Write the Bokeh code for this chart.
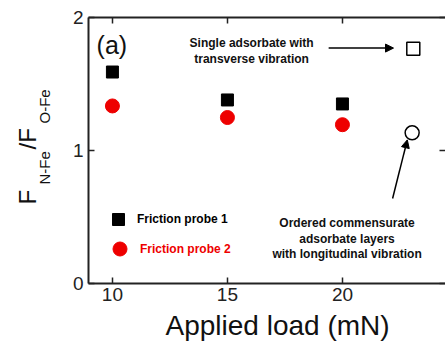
import math
from bokeh.plotting import figure
from bokeh.layouts import row
from bokeh.models import (Range1d, FixedTicker, LinearAxis, Label, Arrow, NormalHead,
                          Legend, LegendItem, Title, CustomJSTickFormatter)
from bokeh.embed import file_html
from bokeh.resources import INLINE

# ---- data ----
loads = [10, 15, 20]
probe1 = [1.59, 1.38, 1.35]
probe2 = [1.335, 1.248, 1.194]
single_x = [23.08]
single_y = [1.765]
ordered_x = [23.03]
ordered_y = [1.133]
x_ticks = [10, 15, 20]
y_ticks = [0, 1, 2]
x_title = "Applied load (mN)"

FONT = "Liberation Sans"
RED = "#ee0000"
LEFT_W = 60

p = figure(width=445 - LEFT_W, height=350, output_backend="svg", toolbar_location=None,
           x_range=Range1d(8.96, 24.48), y_range=Range1d(0, 2),
           min_border_left=88 - LEFT_W, min_border_right=0, min_border_top=17,
           min_border_bottom=67, x_axis_location=None, y_axis_location=None)
p.outline_line_color = None
p.grid.visible = False


def style_axis(ax, ticks, show_labels, line=True):
    ax.ticker = FixedTicker(ticks=ticks)
    ax.minor_tick_line_color = None
    ax.major_tick_in = 6
    ax.major_tick_out = 0
    ax.major_tick_line_width = 1.5
    ax.major_tick_line_color = "#222222"
    ax.axis_line_width = 2
    ax.axis_line_color = "#222222" if line else None
    if show_labels:
        ax.major_label_text_font = FONT
        ax.major_label_text_font_size = "19px"
        ax.major_label_text_color = "#222222"
    else:
        ax.formatter = CustomJSTickFormatter(code="return ''")
        ax.major_label_text_font_size = "0px"
        ax.major_label_standoff = 0


bottom = LinearAxis()
style_axis(bottom, x_ticks, True)
bottom.major_label_standoff = 4
p.add_layout(bottom, "below")

left = LinearAxis()
style_axis(left, y_ticks, True)
left.major_label_standoff = 5
p.add_layout(left, "left")

top = LinearAxis()
style_axis(top, x_ticks, False)
p.add_layout(top, "above")

right = LinearAxis()
style_axis(right, y_ticks, False, line=False)
p.add_layout(right, "right")

p.add_layout(Title(text=x_title, align="left", offset=77, standoff=9,
                   text_font=FONT, text_font_size="28px", text_font_style="normal",
                   text_color="#111111"), "below")

# ---- data marks ----
r1 = p.scatter(loads, probe1, marker="square", size=12, fill_color="black", line_color="black")
r2 = p.scatter(loads, probe2, marker="circle", size=14, fill_color=RED, line_color=RED)
p.scatter(single_x, single_y, marker="square", size=13, fill_color=None,
          line_color="black", line_width=1.5)
p.scatter(ordered_x, ordered_y, marker="circle", size=14, fill_color=None,
          line_color="black", line_width=1.5)

# ---- legends ----
leg1 = Legend(items=[LegendItem(label="Friction probe 1", renderers=[r1])],
              location=(15, 49), glyph_width=30, glyph_height=30, padding=0, margin=0,
              spacing=0, label_standoff=4, border_line_color=None, background_fill_alpha=0,
              label_text_font=FONT, label_text_font_style="bold", label_text_font_size="12px",
              label_text_color="black")
leg2 = Legend(items=[LegendItem(label="Friction probe 2", renderers=[r2])],
              location=(14, 17), glyph_width=35, glyph_height=35, padding=0, margin=0,
              spacing=0, label_standoff=3, border_line_color=None, background_fill_alpha=0,
              label_text_font=FONT, label_text_font_style="bold", label_text_font_size="12px",
              label_text_color=RED)
p.add_layout(leg1)
p.add_layout(leg2)

# ---- annotations (in data units) ----
def note(text, x, y, size="12px", style="bold", align="center"):
    p.add_layout(Label(x=x, y=y, text=text, text_font=FONT, text_font_size=size,
                       text_font_style=style, text_align=align,
                       text_baseline="alphabetic", text_color="#111111"))


note("(a)", 9.31, 1.79, size="25px", style="normal", align="left")
note("Single adsorbate with", 16.05, 1.81)
note("transverse vibration", 16.05, 1.69)
note("Ordered commensurate", 20.20, 0.452)
note("adsorbate layers", 20.20, 0.333)
note("with longitudinal vibration", 20.20, 0.222)

p.add_layout(Arrow(end=NormalHead(size=8, fill_color="black", line_color="black"),
                   x_start=19.4, y_start=1.77, x_end=22.22, y_end=1.77,
                   line_width=1.5, line_color="black"))
p.add_layout(Arrow(end=NormalHead(size=8, fill_color="black", line_color="black"),
                   x_start=22.18, y_start=0.639, x_end=22.82, y_end=1.08,
                   line_width=1.5, line_color="black"))

# ---- y-axis title strip: data units equal canvas pixels (y measured from bottom) ----
q = figure(width=LEFT_W, height=350, output_backend="svg", toolbar_location=None,
           x_range=Range1d(0, LEFT_W), y_range=Range1d(67, 333),
           min_border_left=0, min_border_right=0, min_border_top=17, min_border_bottom=67,
           x_axis_location=None, y_axis_location=None)
q.outline_line_color = None
q.grid.visible = False


def ylab(text, x, y, size):
    q.add_layout(Label(x=x, y=y, angle=math.pi / 2, text=text, text_font=FONT,
                       text_font_size=size, text_align="left",
                       text_baseline="alphabetic", text_color="#111111"))


ylab("F", 27, 146, "24px")
ylab("N-Fe", 44, 166, "15px")
ylab("/F", 27, 201, "24px")
ylab("O-Fe", 44, 227, "15px")

layout = row(q, p, spacing=0)
open("out.html", "w").write(file_html(layout, INLINE))
